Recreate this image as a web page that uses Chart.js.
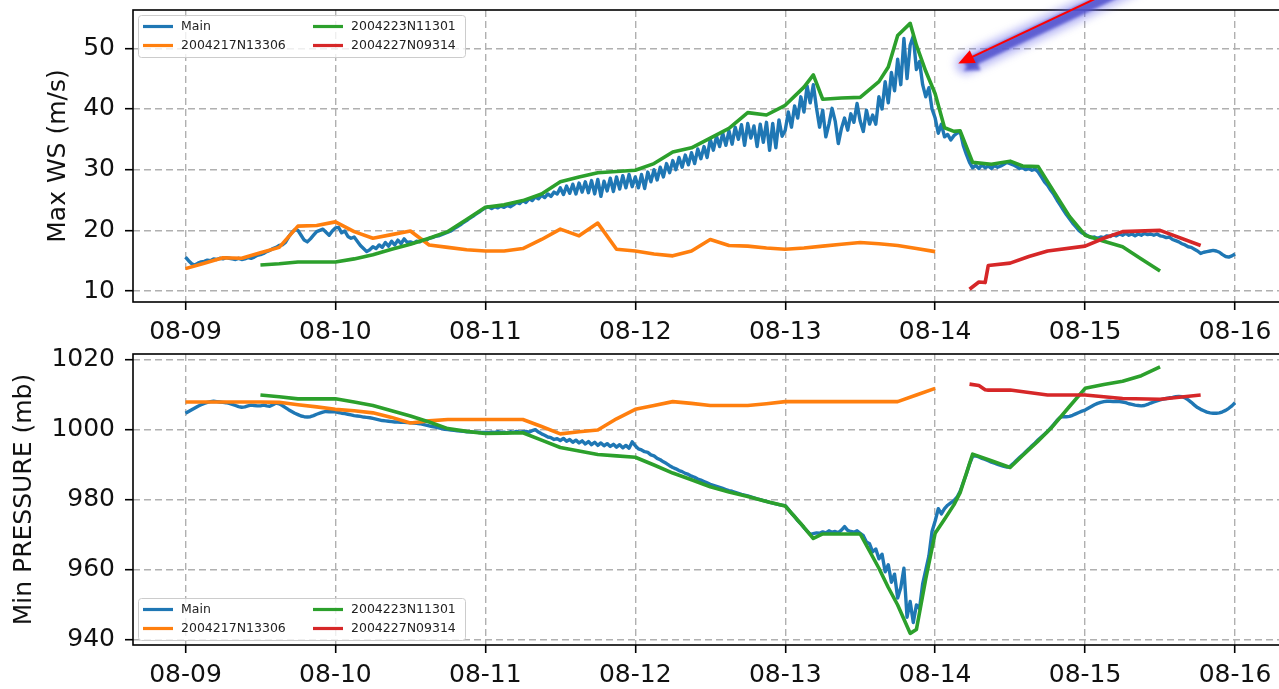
<!DOCTYPE html>
<html>
<head>
<meta charset="utf-8">
<script src="https://cdn.jsdelivr.net/npm/chart.js@4.4.0/dist/chart.umd.min.js"></script>
<style>
  html, body { margin: 0; padding: 0; background: #fff; overflow: hidden; width: 1279px; height: 689px; }
  canvas { position: absolute; left: 0; }
  #ws { top: 0; }
  #pres { top: 345px; }
</style>
</head>
<body>
<canvas id="ws" width="1320" height="345"></canvas>
<canvas id="pres" width="1320" height="344"></canvas>
<script>
// ---- axis labels ----
const dayTickLabels = ['08-09', '08-10', '08-11', '08-12', '08-13', '08-14', '08-15', '08-16'];
const hoursPerDay = 24;
const wsTicks = [10, 20, 30, 40, 50];
const presTicks = [940, 960, 980, 1000, 1020];
const seriesNames = ['Main', '2004217N13306', '2004223N11301', '2004227N09314'];

// ---- Main run: half-hourly output from 08-09 00:00 ----
const mainStartHour = 0;
const mainStepHours = 0.5;
const mainWind = [
  15.6,15.0,14.5,14.3,14.6,14.8,14.9,15.1,15.0,15.3,15.2,15.4,15.3,15.5,15.4,15.3,15.2,15.4,15.2,15.3,15.5,15.4,15.6,15.9,
  16.0,16.2,16.5,16.7,17.0,17.2,17.5,17.6,18.0,18.9,19.6,20.1,20.0,19.2,18.4,18.1,18.6,19.2,19.8,20.0,20.2,19.7,19.2,19.9,
  20.4,20.5,19.6,19.9,19.0,18.7,18.9,18.2,17.5,17.0,16.5,16.8,17.3,17.0,17.6,17.2,18.0,17.4,18.2,17.6,18.4,17.8,18.6,18.0,
  18.1,17.9,18.2,18.1,18.5,18.3,18.7,18.8,19.0,19.1,19.3,19.5,19.7,19.9,20.3,20.6,20.9,21.3,21.6,22.0,22.3,22.7,23.0,23.4,
  23.7,23.9,23.6,23.9,23.7,24.0,23.8,24.1,23.9,24.2,24.6,24.4,24.9,24.6,25.2,24.9,25.5,25.2,25.8,25.4,26.0,25.6,26.3,26.0,
  27.0,25.9,27.3,26.1,27.6,26.0,27.8,26.3,28.0,26.2,28.2,26.0,28.4,25.6,28.1,26.5,28.6,26.4,28.8,26.8,29.0,27.0,29.2,27.2,
  28.8,27.0,29.2,26.9,29.6,28.0,30.0,28.3,30.4,28.8,31.0,29.5,31.5,30.0,32.0,30.4,32.4,30.8,32.8,31.0,33.4,31.8,33.8,32.0,
  35.0,33.2,35.5,33.8,36.0,34.0,36.4,34.2,37.0,35.0,37.4,34.0,37.6,35.2,37.2,33.8,37.5,34.5,37.8,33.2,37.6,33.6,38.2,35.5,
  36.5,39.5,37.0,40.5,38.5,42.0,39.5,43.8,41.0,44.0,40.2,37.0,39.8,35.4,37.5,40.1,38.0,34.3,36.8,38.5,36.5,39.2,37.8,40.9,
  38.0,36.3,39.8,37.5,39.0,37.5,42.0,40.0,44.5,41.0,46.0,43.0,48.2,44.0,51.6,45.0,50.5,52.0,46.5,47.8,44.0,42.0,43.5,40.0,
  38.5,36.0,37.5,35.4,35.8,34.9,35.6,36.0,36.3,34.0,32.5,31.2,30.3,30.7,30.2,30.8,30.3,30.6,30.2,30.7,30.4,30.6,30.9,31.2,
  31.0,30.8,30.5,30.2,30.3,30.0,30.2,29.9,30.1,29.6,28.8,28.0,27.4,26.6,25.9,25.0,24.2,23.4,22.6,21.9,21.2,20.6,20.0,19.6,
  19.4,19.0,18.8,18.9,18.7,18.9,18.8,19.1,19.0,19.3,19.1,19.4,19.2,19.5,19.2,19.4,19.1,19.4,19.2,19.5,19.3,19.4,19.2,19.4,
  19.1,19.0,18.8,18.9,18.5,18.3,18.1,17.8,17.6,17.3,17.2,16.9,16.6,16.2,16.4,16.5,16.6,16.7,16.6,16.4,16.0,15.7,15.6,15.8,16.1
];
const mainPressure = [
  1004.8,1005.3,1005.8,1006.3,1006.8,1007.2,1007.6,1007.9,1008.1,1008.2,1008.1,1008.0,1007.9,1007.8,1007.6,1007.3,1007.0,1006.7,1006.5,1006.6,1006.9,1007.1,1007.0,1006.9,
  1006.9,1007.1,1006.9,1006.8,1007.2,1007.7,1007.5,1007.0,1006.4,1005.8,1005.3,1004.8,1004.4,1004.0,1003.8,1003.7,1003.8,1004.1,1004.5,1004.8,1005.1,1005.3,1005.2,1005.3,
  1005.2,1005.0,1004.8,1004.7,1004.5,1004.3,1004.1,1004.0,1003.9,1003.7,1003.6,1003.5,1003.3,1003.1,1002.9,1002.7,1002.6,1002.5,1002.4,1002.3,1002.3,1002.2,1002.2,1002.1,
  1002.1,1002.0,1001.9,1001.8,1001.6,1001.4,1001.2,1001.0,1000.8,1000.6,1000.4,1000.2,1000.1,1000.0,999.9,999.8,999.7,999.6,999.5,999.5,999.4,999.4,999.3,999.3,
  999.3,999.2,999.4,999.3,999.5,999.3,999.4,999.2,999.5,999.3,999.6,999.4,999.5,999.6,999.4,999.8,1000.1,999.4,998.9,998.5,998.0,997.8,997.3,997.5,
  997.0,997.6,996.8,997.3,996.5,997.1,996.3,996.9,996.0,996.7,995.8,996.5,995.6,996.3,995.5,996.1,995.3,995.9,995.1,995.8,994.9,995.6,994.8,996.6,
  995.5,994.6,994.3,993.8,993.6,992.9,992.6,991.9,991.5,990.9,990.4,989.8,989.3,988.9,988.4,988.1,987.6,987.3,986.8,986.5,986.0,985.7,985.3,984.9,
  984.5,984.2,983.9,983.6,983.3,983.0,982.7,982.5,982.2,981.9,981.6,981.4,981.2,980.9,980.6,980.3,980.1,979.8,979.6,979.3,979.1,978.9,978.7,978.5,
  978.4,977.3,976.2,975.3,974.1,973.2,972.1,971.1,970.2,970.4,970.6,970.5,970.9,970.6,971.2,970.8,971.0,970.7,971.4,972.4,971.3,971.0,970.8,971.2,
  970.5,969.8,968.0,967.5,965.2,966.0,963.2,964.5,959.5,961.5,956.5,958.8,952.0,955.0,960.5,946.5,951.0,945.0,950.0,949.0,956.0,960.0,964.0,971.0,
  974.0,977.5,976.0,977.5,978.5,979.2,979.8,980.8,982.5,985.0,987.5,990.3,992.5,992.6,992.3,991.9,991.6,991.2,990.8,990.5,990.2,989.9,989.6,989.4,
  989.6,990.4,991.3,992.1,992.9,993.8,994.6,995.5,996.3,997.2,998.0,998.8,999.6,1000.6,1001.6,1002.7,1003.6,1003.8,1003.8,1003.9,1004.2,1004.6,1005.0,1005.4,
  1005.7,1006.2,1006.7,1007.2,1007.6,1007.9,1008.1,1008.2,1008.2,1008.1,1008.2,1008.1,1008.0,1007.8,1007.5,1007.3,1007.1,1007.0,1006.9,1007.0,1007.3,1007.7,1008.0,1008.3,
  1008.6,1008.8,1009.0,1009.2,1009.3,1009.5,1009.6,1009.5,1009.2,1008.6,1007.9,1007.1,1006.4,1005.9,1005.5,1005.1,1004.9,1004.8,1004.8,1004.9,1005.2,1005.6,1006.2,1006.9,1007.8
];

// ---- best-track storms (hours after 08-09 00:00) ----
const hours17 = [0,3,6,9,12,15,18,21,24,27,30,33,36,39,42,45,48,51,54,57,60,63,66,69,72,75,78,81,84,87,90,93,96,99,102,105,108,111,114,117,120];
const wind17 = [13.7,14.6,15.5,15.4,16.3,17.2,20.7,20.8,21.4,19.8,18.7,19.3,19.9,17.6,17.2,16.8,16.6,16.6,17.0,18.5,20.2,19.1,21.2,16.9,16.6,16.1,15.8,16.6,18.5,17.5,17.4,17.1,16.9,17.1,17.4,17.7,18.0,17.8,17.5,17.0,16.5];
const pres17 = [1008.0,1008.0,1008.0,1008.0,1008.0,1007.9,1007.2,1006.6,1005.9,1005.5,1004.9,1003.6,1002.0,1002.6,1003.0,1003.0,1003.0,1003.0,1003.0,1001.0,998.9,999.5,1000.0,1003.2,1005.9,1007.0,1008.1,1007.6,1007.0,1007.0,1007.0,1007.5,1008.1,1008.1,1008.1,1008.1,1008.1,1008.1,1008.1,1010.0,1011.9];

const hours23 = [12,15,18,21,24,27,30,33,36,39,42,45,48,51,54,57,60,63,66,69,72,75,78,81,84,87,90,93,96,99,
  100.5,102,105,108,111,112.5,114,116,117,118.5,120,121.5,123,124,126,129,132,134,136.5,138.5,141.5,144,147,150,153,156];
const wind23 = [14.3,14.5,14.8,14.8,14.8,15.3,16.0,16.9,17.7,18.7,19.8,21.8,23.8,24.2,24.9,26.0,28.0,28.8,29.5,29.7,29.9,31.0,32.9,33.6,35.2,36.8,39.4,39.0,40.6,43.6,
  45.6,41.6,41.8,41.9,44.5,46.9,52.1,54.1,50.5,46.2,42.5,36.9,36.3,36.4,31.2,30.9,31.4,30.6,30.5,27.2,22.3,19.2,18.2,17.3,15.3,13.3];
const pres23 = [1010.0,1009.5,1008.9,1008.9,1008.9,1008.0,1007.0,1005.5,1004.0,1002.3,1000.4,999.6,999.0,999.1,999.2,997.1,995.0,994.0,993.0,992.6,992.2,990.0,987.7,985.8,983.8,982.3,981.0,979.6,978.3,972.2,
  969.0,970.3,970.3,970.3,960.5,955.0,950.0,941.9,943.0,957.5,970.5,974.5,978.6,982.1,993.1,991.2,989.3,992.7,996.9,1000.4,1006.7,1011.9,1013.0,1013.9,1015.5,1018.0];

const hours27 = [125.5,127,128,128.5,132,135,138,144,147,150,156,162.5];
const wind27 = [10.3,11.5,11.4,14.2,14.6,15.7,16.6,17.4,18.7,19.8,20.0,17.5];
const pres27 = [1013.1,1012.7,1011.5,1011.4,1011.4,1010.7,1010.0,1010.0,1009.5,1009.0,1008.8,1010.0];

// ---- styling ----
const FONT_FAMILY = '"DejaVu Sans", sans-serif';
const TEXT_COLOR = '#111111';
const COLORS = ['#1f77b4', '#ff7f0e', '#2ca02c', '#d62728'];
const LINE_WIDTHS = [3.4, 3.6, 3.6, 3.6];

function mainPoints(values) {
  return values.map((v, i) => ({ x: mainStartHour + i * mainStepHours, y: v }));
}
function pairPoints(hours, values) {
  return hours.map((h, i) => ({ x: h, y: values[i] }));
}
function buildSets(mainVals, v17, v23, v27) {
  const series = [mainPoints(mainVals), pairPoints(hours17, v17), pairPoints(hours23, v23), pairPoints(hours27, v27)];
  return series.map((pts, i) => ({
    label: seriesNames[i],
    data: pts,
    borderColor: COLORS[i],
    backgroundColor: COLORS[i],
    borderWidth: LINE_WIDTHS[i],
    pointRadius: 0,
    fill: false,
    order: 4 - i
  }));
}

// full box around the plotting area
const framePlugin = {
  id: 'frame',
  afterDatasetsDraw(chart) {
    const { ctx, chartArea: a } = chart;
    ctx.save();
    ctx.strokeStyle = '#000';
    ctx.lineWidth = 1.6;
    ctx.strokeRect(a.left, a.top, a.right - a.left, a.bottom - a.top);
    ctx.restore();
  }
};

// two-column legend inside a corner of the plot
const cornerLegend = {
  id: 'cornerLegend',
  afterDraw(chart, args, opts) {
    const { ctx, chartArea: a } = chart;
    const w = 327, h = 42;
    const x = a.left + 5;
    const y = opts.corner === 'top' ? a.top + 5 : a.bottom - 5 - h;
    ctx.save();
    ctx.beginPath();
    ctx.roundRect(x + 0.5, y + 0.5, w, h, 3);
    ctx.fillStyle = 'rgba(255,255,255,0.8)';
    ctx.fill();
    ctx.strokeStyle = '#cccccc';
    ctx.lineWidth = 1;
    ctx.stroke();
    ctx.font = '12.5px ' + FONT_FAMILY;
    ctx.textBaseline = 'middle';
    ctx.textAlign = 'left';
    const sets = chart.data.datasets;
    const cols = [0, 170];
    sets.forEach((ds, i) => {
      const cx = x + cols[Math.floor(i / 2)];
      const cy = y + (i % 2 === 0 ? 11.5 : 30.5);
      ctx.strokeStyle = ds.borderColor;
      ctx.lineWidth = 3.2;
      ctx.beginPath();
      ctx.moveTo(cx + 5, cy);
      ctx.lineTo(cx + 35, cy);
      ctx.stroke();
      ctx.fillStyle = '#222';
      ctx.fillText(ds.label, cx + 43, cy + 0.5);
    });
    ctx.restore();
  }
};

// glowing pointer arrow drawn over the wind panel
const pointerArrow = {
  id: 'pointer',
  afterDraw(chart, args, opts) {
    if (!opts || !opts.tip) return;
    const { ctx } = chart;
    const xs = chart.scales.x, ys = chart.scales.y;
    const tip = { x: xs.getPixelForValue(opts.tip[0]), y: ys.getPixelForValue(opts.tip[1]) };
    const tail = { x: xs.getPixelForValue(opts.tail[0]), y: ys.getPixelForValue(opts.tail[1]) };
    const len = Math.hypot(tail.x - tip.x, tail.y - tip.y);
    const dx = (tail.x - tip.x) / len, dy = (tail.y - tip.y) / len;
    const nx = -dy, ny = dx;
    const off = { x: nx * 2.5 + 1, y: ny * 2.5 + 1 };
    const headLen = 16, headHalf = 7;

    ctx.save();
    // soft halo
    ctx.filter = 'blur(4px)';
    ctx.strokeStyle = 'rgba(110,110,235,0.5)';
    ctx.lineWidth = 20;
    ctx.lineCap = 'round';
    ctx.beginPath();
    ctx.moveTo(tip.x + off.x + dx * 6, tip.y + off.y + dy * 6);
    ctx.lineTo(tail.x + off.x, tail.y + off.y);
    ctx.stroke();
    // band core
    ctx.filter = 'blur(1.5px)';
    ctx.strokeStyle = 'rgba(80,80,205,0.85)';
    ctx.lineWidth = 10;
    ctx.beginPath();
    ctx.moveTo(tip.x + off.x + dx * 10, tip.y + off.y + dy * 10);
    ctx.lineTo(tail.x + off.x, tail.y + off.y);
    ctx.stroke();
    // shadow of the head
    ctx.fillStyle = 'rgba(80,80,205,0.85)';
    ctx.beginPath();
    ctx.moveTo(tip.x + off.x + 3, tip.y + off.y + 4);
    ctx.lineTo(tip.x + off.x + 3 + dx * headLen + nx * headHalf, tip.y + off.y + 4 + dy * headLen + ny * headHalf);
    ctx.lineTo(tip.x + off.x + 3 + dx * headLen - nx * headHalf, tip.y + off.y + 4 + dy * headLen - ny * headHalf);
    ctx.closePath();
    ctx.fill();
    ctx.restore();

    ctx.save();
    ctx.strokeStyle = '#ff0000';
    ctx.lineWidth = 2;
    ctx.beginPath();
    ctx.moveTo(tip.x + dx * 12, tip.y + dy * 12);
    ctx.lineTo(tail.x, tail.y);
    ctx.stroke();
    ctx.fillStyle = '#ff0000';
    ctx.beginPath();
    ctx.moveTo(tip.x, tip.y);
    ctx.lineTo(tip.x + dx * headLen + nx * headHalf, tip.y + dy * headLen + ny * headHalf);
    ctx.lineTo(tip.x + dx * headLen - nx * headHalf, tip.y + dy * headLen - ny * headHalf);
    ctx.closePath();
    ctx.fill();
    ctx.restore();
  }
};

function makePanel(canvasId, cfg) {
  const gridStyle = { color: '#b0b0b0', lineWidth: 1.4, tickColor: '#000', tickWidth: 1.6, tickLength: 8, tickBorderDash: [] };
  const borderStyle = { display: false, dash: [7, 4] };
  return new Chart(document.getElementById(canvasId), {
    type: 'line',
    data: { datasets: cfg.datasets },
    options: {
      responsive: false,
      animation: false,
      devicePixelRatio: 1,
      events: [],
      layout: { padding: { top: cfg.padTop, right: 32.5, bottom: 0, left: 0 } },
      elements: { point: { radius: 0 }, line: { tension: 0, borderJoinStyle: 'round', borderCapStyle: 'butt' } },
      plugins: {
        legend: { display: false },
        tooltip: { enabled: false },
        cornerLegend: { corner: cfg.legendCorner },
        pointer: cfg.pointer || {}
      },
      scales: {
        x: {
          type: 'linear',
          min: -8.4,
          max: 176.4,
          afterBuildTicks(s) { s.ticks = dayTickLabels.map((_, i) => ({ value: i * hoursPerDay })); },
          afterFit(s) { s.height = cfg.xAxisHeight; s.paddingLeft = 0; s.paddingRight = 0; },
          ticks: {
            autoSkip: false, maxRotation: 0, minRotation: 0, padding: 7,
            color: TEXT_COLOR, font: { family: FONT_FAMILY, size: 25 },
            callback: (v) => dayTickLabels[Math.round(v / hoursPerDay)]
          },
          grid: gridStyle,
          border: borderStyle
        },
        y: {
          type: 'linear',
          min: cfg.yMin,
          max: cfg.yMax,
          afterBuildTicks(s) { s.ticks = cfg.yTicks.map(v => ({ value: v })); },
          afterFit(s) { s.width = 133; s.paddingTop = 0; s.paddingBottom = 0; },
          ticks: {
            padding: 10, color: TEXT_COLOR, font: { family: FONT_FAMILY, size: 25 },
            callback: (v) => String(v)
          },
          title: {
            display: true, text: cfg.yTitle, color: TEXT_COLOR,
            font: { family: FONT_FAMILY, size: 25 },
            padding: { top: cfg.titlePad, bottom: 0 }
          },
          grid: gridStyle,
          border: borderStyle
        }
      }
    },
    plugins: [framePlugin, cornerLegend, pointerArrow]
  });
}

makePanel('ws', {
  datasets: buildSets(mainWind, wind17, wind23, wind27),
  padTop: 10, xAxisHeight: 43,
  yMin: 8.2, yMax: 56.3, yTicks: wsTicks,
  yTitle: 'Max WS (m/s)', titlePad: 43,
  legendCorner: 'top',
  pointer: { tip: [123.7, 47.5], tail: [151.5, 61.0] }
});

makePanel('pres', {
  datasets: buildSets(mainPressure, pres17, pres23, pres27),
  padTop: 9, xAxisHeight: 44,
  yMin: 938.57, yMax: 1021.71, yTicks: presTicks,
  yTitle: 'Min PRESSURE (mb)', titlePad: 9,
  legendCorner: 'bottom'
});
</script>
</body>
</html>
